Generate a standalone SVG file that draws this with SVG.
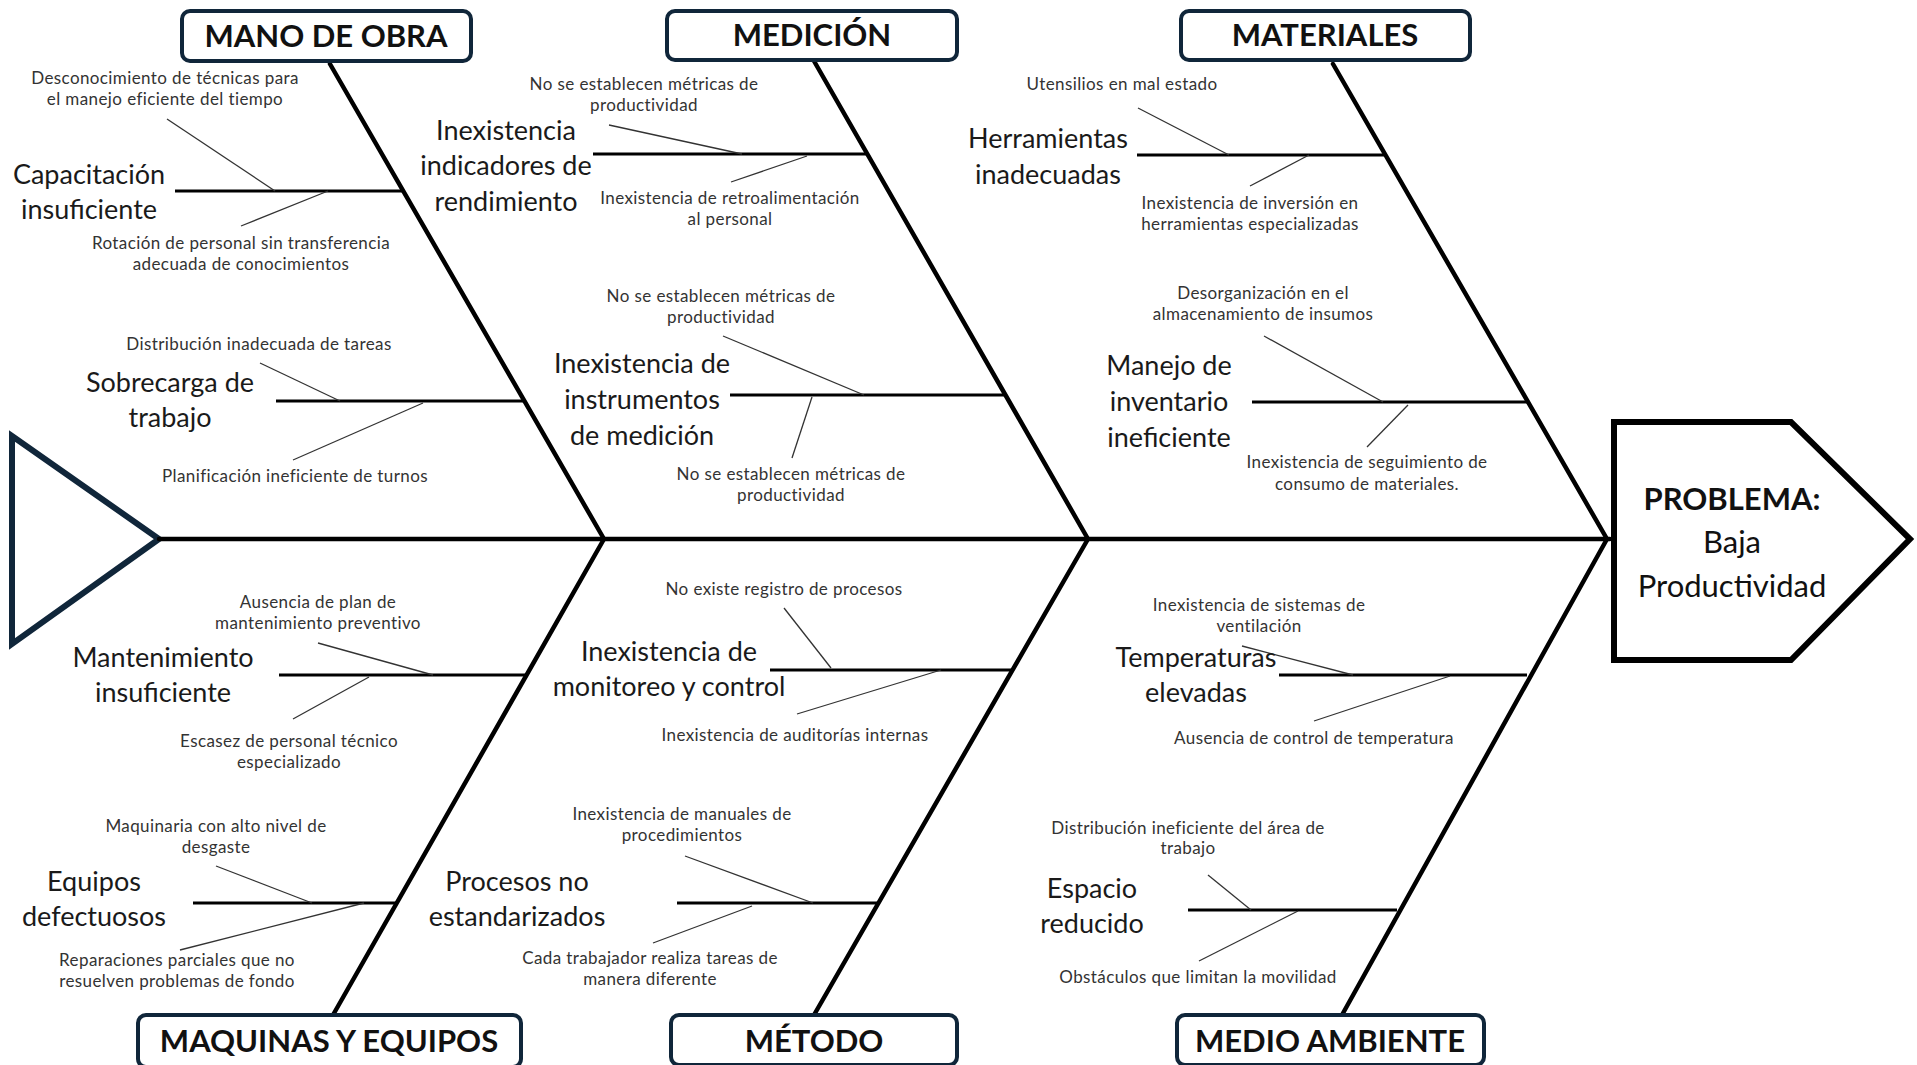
<svg xmlns="http://www.w3.org/2000/svg" width="1917" height="1065" viewBox="0 0 1917 1065">
  <style>
    .cat rect { fill: #ffffff; stroke: #10263a; stroke-width: 4; }
    .cat text { font-family: Lato, "Open Sans", sans-serif; font-weight: 700; font-size: 31px; fill: #111; text-anchor: middle; }
    .bone { stroke: #000; stroke-width: 4.5; fill: none; stroke-linecap: round; }
    .sub { stroke: #000; stroke-width: 3; fill: none; }
    .twig { stroke: #333; stroke-width: 1.3; fill: none; }
    .lbl { font-family: Lato, "Open Sans", sans-serif; font-size: 27px; fill: #1a1a1a; text-anchor: middle; }
    .note { font-family: Lato, "Open Sans", sans-serif; font-size: 17px; letter-spacing: 0.4px; fill: #333; text-anchor: middle; }
    .head-t { font-family: Lato, "Open Sans", sans-serif; font-size: 31px; fill: #111; text-anchor: middle; }
  </style>

  <rect width="1917" height="1065" fill="#ffffff"/>

  <!-- tail -->
  <g id="tail">
    <polygon points="12,436 159,539 12,644" fill="#ffffff" stroke="#10263a" stroke-width="6" stroke-linejoin="miter"/>
  </g>

  <!-- bones, branches and twigs -->
  <g id="connectors">
    <line class="bone" x1="159" y1="539" x2="1610" y2="539" stroke-width="5"/>
    <!-- main bones -->
    <line class="bone" x1="330" y1="64" x2="604" y2="539"/>
    <line class="bone" x1="814" y1="61" x2="1088" y2="539"/>
    <line class="bone" x1="1333" y1="64" x2="1607" y2="539"/>
    <line class="bone" x1="604" y1="539" x2="333" y2="1015"/>
    <line class="bone" x1="1088" y1="539" x2="814" y2="1015"/>
    <line class="bone" x1="1607" y1="539" x2="1342" y2="1015"/>

    <!-- branches -->
    <line class="sub" x1="175" y1="191" x2="403" y2="191"/>
    <line class="sub" x1="276" y1="401" x2="524" y2="401"/>
    <line class="sub" x1="593" y1="154" x2="867" y2="154"/>
    <line class="sub" x1="730" y1="395" x2="1006" y2="395"/>
    <line class="sub" x1="1137" y1="155" x2="1385" y2="155"/>
    <line class="sub" x1="1252" y1="402" x2="1527" y2="402"/>
    <line class="sub" x1="279" y1="675" x2="526" y2="675"/>
    <line class="sub" x1="193" y1="903" x2="396" y2="903"/>
    <line class="sub" x1="770" y1="670" x2="1012" y2="670"/>
    <line class="sub" x1="677" y1="903" x2="878" y2="903"/>
    <line class="sub" x1="1279" y1="675" x2="1527" y2="675"/>
    <line class="sub" x1="1188" y1="910" x2="1397" y2="910"/>

    <!-- twigs -->
    <line class="twig" x1="167" y1="119" x2="275" y2="191"/>
    <line class="twig" x1="328" y1="191" x2="241" y2="226"/>
    <line class="twig" x1="260" y1="363" x2="340" y2="401"/>
    <line class="twig" x1="423" y1="403" x2="293" y2="460"/>
    <line class="twig" x1="609" y1="125" x2="742" y2="154"/>
    <line class="twig" x1="807" y1="156" x2="731" y2="182"/>
    <line class="twig" x1="723" y1="336" x2="864" y2="395"/>
    <line class="twig" x1="812" y1="397" x2="792" y2="458"/>
    <line class="twig" x1="1138" y1="108" x2="1229" y2="155"/>
    <line class="twig" x1="1309" y1="155" x2="1250" y2="186"/>
    <line class="twig" x1="1264" y1="336" x2="1383" y2="402"/>
    <line class="twig" x1="1408" y1="405" x2="1367" y2="447"/>
    <line class="twig" x1="318" y1="643" x2="433" y2="675"/>
    <line class="twig" x1="369" y1="677" x2="293" y2="719"/>
    <line class="twig" x1="216" y1="866" x2="312" y2="903"/>
    <line class="twig" x1="364" y1="903" x2="180" y2="950"/>
    <line class="twig" x1="784" y1="608" x2="831" y2="668"/>
    <line class="twig" x1="941" y1="670" x2="797" y2="714"/>
    <line class="twig" x1="685" y1="856" x2="813" y2="903"/>
    <line class="twig" x1="752" y1="906" x2="653" y2="943"/>
    <line class="twig" x1="1242" y1="646" x2="1353" y2="675"/>
    <line class="twig" x1="1450" y1="676" x2="1314" y2="721"/>
    <line class="twig" x1="1208" y1="875" x2="1251" y2="910"/>
    <line class="twig" x1="1298" y1="911" x2="1199" y2="961"/>
  </g>

  <!-- category headers -->
  <g id="cat-mano-de-obra" class="cat">
    <rect x="182" y="11" width="289" height="50" rx="8"/>
    <text x="326" y="47">MANO DE OBRA</text>
  </g>
  <g id="cat-medicion" class="cat">
    <rect x="667" y="11" width="290" height="49" rx="8"/>
    <text x="812" y="46">MEDICIÓN</text>
  </g>
  <g id="cat-materiales" class="cat">
    <rect x="1181" y="11" width="289" height="49" rx="8"/>
    <text x="1325" y="46">MATERIALES</text>
  </g>
  <g id="cat-maquinas" class="cat">
    <rect x="138" y="1015" width="383" height="52" rx="8"/>
    <text x="329" y="1052">MAQUINAS Y EQUIPOS</text>
  </g>
  <g id="cat-metodo" class="cat">
    <rect x="671" y="1015" width="286" height="50" rx="8"/>
    <text x="814" y="1052">MÉTODO</text>
  </g>
  <g id="cat-medio-ambiente" class="cat">
    <rect x="1177" y="1015" width="307" height="50" rx="8"/>
    <text x="1330" y="1052">MEDIO AMBIENTE</text>
  </g>

  <!-- effect -->
  <g id="problema">
    <polygon points="1614,422 1791,422 1910,539 1791,660 1614,660" fill="#ffffff" stroke="#000" stroke-width="6"/>
    <text class="head-t" x="1732" y="510" font-weight="700">PROBLEMA:</text>
    <text class="head-t" x="1732" y="553" font-size="32">Baja</text>
    <text class="head-t" x="1732" y="597" font-size="32">Productividad</text>
  </g>

  <!-- causes: MANO DE OBRA -->
  <g id="cause-capacitacion">
    <text class="lbl"><tspan x="89" y="184">Capacitación</tspan><tspan x="89" y="219">insuficiente</tspan></text>
    <text class="note"><tspan x="165" y="84">Desconocimiento de técnicas para</tspan><tspan x="165" y="105">el manejo eficiente del tiempo</tspan></text>
    <text class="note"><tspan x="241" y="249">Rotación de personal sin transferencia</tspan><tspan x="241" y="270">adecuada de conocimientos</tspan></text>
  </g>
  <g id="cause-sobrecarga">
    <text class="lbl"><tspan x="170" y="392">Sobrecarga de</tspan><tspan x="170" y="427">trabajo</tspan></text>
    <text class="note" x="259" y="350">Distribución inadecuada de tareas</text>
    <text class="note" x="295" y="482">Planificación ineficiente de turnos</text>
  </g>

  <!-- causes: MEDICIÓN -->
  <g id="cause-indicadores">
    <text class="lbl"><tspan x="506" y="140">Inexistencia</tspan><tspan x="506" y="175">indicadores de</tspan><tspan x="506" y="211">rendimiento</tspan></text>
    <text class="note"><tspan x="644" y="90">No se establecen métricas de</tspan><tspan x="644" y="111">productividad</tspan></text>
    <text class="note"><tspan x="730" y="204">Inexistencia de retroalimentación</tspan><tspan x="730" y="225">al personal</tspan></text>
  </g>
  <g id="cause-instrumentos">
    <text class="lbl"><tspan x="642" y="373">Inexistencia de</tspan><tspan x="642" y="409">instrumentos</tspan><tspan x="642" y="445">de medición</tspan></text>
    <text class="note"><tspan x="721" y="302">No se establecen métricas de</tspan><tspan x="721" y="323">productividad</tspan></text>
    <text class="note"><tspan x="791" y="480">No se establecen métricas de</tspan><tspan x="791" y="501">productividad</tspan></text>
  </g>

  <!-- causes: MATERIALES -->
  <g id="cause-herramientas">
    <text class="lbl"><tspan x="1048" y="148">Herramientas</tspan><tspan x="1048" y="184">inadecuadas</tspan></text>
    <text class="note" x="1122" y="90">Utensilios en mal estado</text>
    <text class="note"><tspan x="1250" y="209">Inexistencia de inversión en</tspan><tspan x="1250" y="230">herramientas especializadas</tspan></text>
  </g>
  <g id="cause-inventario">
    <text class="lbl"><tspan x="1169" y="375">Manejo de</tspan><tspan x="1169" y="411">inventario</tspan><tspan x="1169" y="447">ineficiente</tspan></text>
    <text class="note"><tspan x="1263" y="299">Desorganización en el</tspan><tspan x="1263" y="320">almacenamiento de insumos</tspan></text>
    <text class="note"><tspan x="1367" y="468">Inexistencia de seguimiento de</tspan><tspan x="1367" y="490">consumo de materiales.</tspan></text>
  </g>

  <!-- causes: MAQUINAS Y EQUIPOS -->
  <g id="cause-mantenimiento">
    <text class="lbl"><tspan x="163" y="667">Mantenimiento</tspan><tspan x="163" y="702">insuficiente</tspan></text>
    <text class="note"><tspan x="318" y="608">Ausencia de plan de</tspan><tspan x="318" y="629">mantenimiento preventivo</tspan></text>
    <text class="note"><tspan x="289" y="747">Escasez de personal técnico</tspan><tspan x="289" y="768">especializado</tspan></text>
  </g>
  <g id="cause-equipos">
    <text class="lbl"><tspan x="94" y="891">Equipos</tspan><tspan x="94" y="926">defectuosos</tspan></text>
    <text class="note"><tspan x="216" y="832">Maquinaria con alto nivel de</tspan><tspan x="216" y="853">desgaste</tspan></text>
    <text class="note"><tspan x="177" y="966">Reparaciones parciales que no</tspan><tspan x="177" y="987">resuelven problemas de fondo</tspan></text>
  </g>

  <!-- causes: MÉTODO -->
  <g id="cause-monitoreo">
    <text class="lbl"><tspan x="669" y="661">Inexistencia de</tspan><tspan x="669" y="696">monitoreo y control</tspan></text>
    <text class="note" x="784" y="595">No existe registro de procesos</text>
    <text class="note" x="795" y="741">Inexistencia de auditorías internas</text>
  </g>
  <g id="cause-procesos">
    <text class="lbl"><tspan x="517" y="891">Procesos no</tspan><tspan x="517" y="926">estandarizados</tspan></text>
    <text class="note"><tspan x="682" y="820">Inexistencia de manuales de</tspan><tspan x="682" y="841">procedimientos</tspan></text>
    <text class="note"><tspan x="650" y="964">Cada trabajador realiza tareas de</tspan><tspan x="650" y="985">manera diferente</tspan></text>
  </g>

  <!-- causes: MEDIO AMBIENTE -->
  <g id="cause-temperaturas">
    <text class="lbl"><tspan x="1196" y="667">Temperaturas</tspan><tspan x="1196" y="702">elevadas</tspan></text>
    <text class="note"><tspan x="1259" y="611">Inexistencia de sistemas de</tspan><tspan x="1259" y="632">ventilación</tspan></text>
    <text class="note" x="1314" y="744">Ausencia de control de temperatura</text>
  </g>
  <g id="cause-espacio">
    <text class="lbl"><tspan x="1092" y="898">Espacio</tspan><tspan x="1092" y="933">reducido</tspan></text>
    <text class="note"><tspan x="1188" y="834">Distribución ineficiente del área de</tspan><tspan x="1188" y="854">trabajo</tspan></text>
    <text class="note" x="1198" y="983">Obstáculos que limitan la movilidad</text>
  </g>
</svg>
